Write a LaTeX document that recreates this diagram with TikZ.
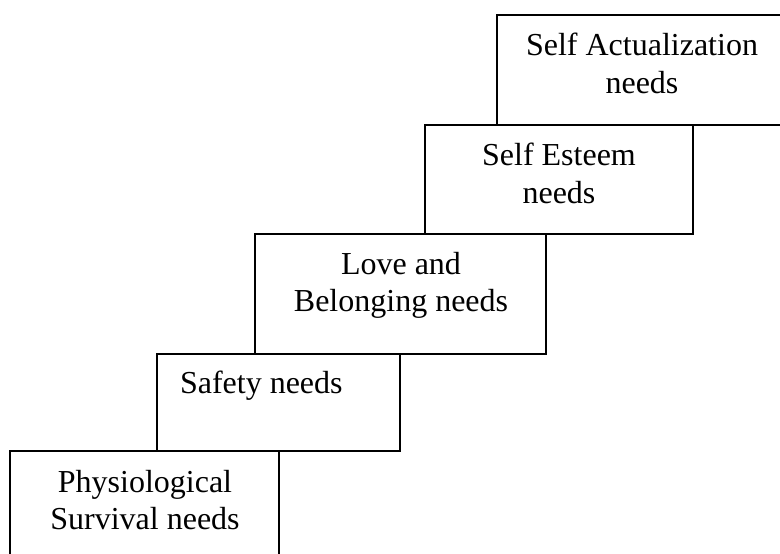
\documentclass[tikz,border=0pt]{standalone}
\usepackage{fontspec}
\setmainfont{Liberation Serif}
\begin{document}
\begin{tikzpicture}[x=1pt,y=-1pt,
  stepbox/.style={draw=black, line width=1.6pt, rectangle, inner sep=0pt, outer sep=0pt, anchor=north west},
  lbl/.style={inner sep=0pt, outer sep=0pt, align=center, font=\fontsize{32}{37.5}\selectfont}]
\clip (0,0) rectangle (780,554);
\fill[white] (0,0) rectangle (780,554);
% boxes
\node[stepbox, minimum width=269pt, minimum height=160pt] (phys) at (10,451) {};
\node[stepbox, minimum width=243pt, minimum height=97pt] (safe) at (157,354) {};
\node[stepbox, minimum width=291pt, minimum height=120pt] (love) at (255,234) {};
\node[stepbox, minimum width=268pt, minimum height=109pt] (este) at (425,125) {};
\node[stepbox, minimum width=310pt, minimum height=110pt] (actu) at (497,15) {};
% texts
\node[lbl, anchor=north] (tphys) at (145,470) {Physiological\\Survival needs};
\node[lbl, anchor=base west] (tsafe) at (180,393) {Safety needs};
\node[lbl, anchor=north] (tlove) at (401,252) {Love and\\Belonging needs};
\node[lbl, anchor=north] (teste) at (559,143) {Self Esteem\\needs};
\node[lbl, anchor=north] (tactu) at (642,33) {Self Actualization\\needs};
\end{tikzpicture}
\end{document}
